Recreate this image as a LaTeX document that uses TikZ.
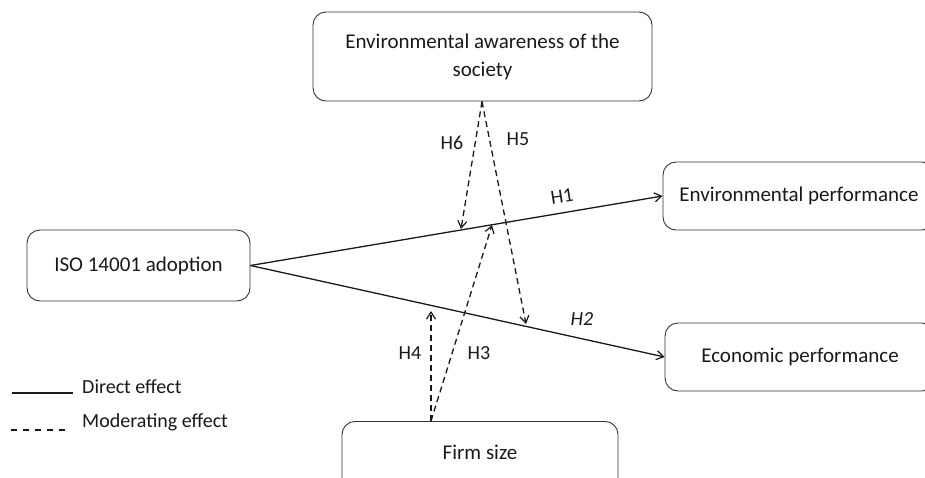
\documentclass[tikz,border=0pt]{standalone}
\usepackage{fontspec}
\setmainfont{Carlito}
\usetikzlibrary{arrows.meta}
\begin{document}
\begin{tikzpicture}[x=1pt,y=-1pt,
  box/.style={draw=black!80,line width=0.9pt,rounded corners=13pt,align=center,inner sep=0pt,font=\fontsize{21}{28}\selectfont,text=black!90},
  direct/.style={line width=1.3pt,draw=black!90,-{Straight Barb[length=7pt,width=9pt,line width=1.2pt]}},
  moder/.style={line width=1.3pt,draw=black!90,dash pattern=on 6pt off 4pt,-{Straight Barb[length=7pt,width=9pt,line width=1.2pt]}},
  lab/.style={font=\fontsize{20}{22}\selectfont,text=black!90,inner sep=0pt}]
\useasboundingbox (0,0) rectangle (925,477);
\clip (0,0) rectangle (925,477);
\node[box,minimum width=339pt,minimum height=89pt] (soc) at (482.5,56.5) {Environmental awareness of the\\society};
\node[box,minimum width=223pt,minimum height=71pt] (iso) at (138.5,265.5) {ISO 14001 adoption};
\node[box,minimum width=272pt,minimum height=68pt] (env) at (799,196) {Environmental performance};
\node[box,minimum width=270pt,minimum height=68pt] (eco) at (800,357) {Economic performance};
\node[box,minimum width=276pt,minimum height=100pt,anchor=north] (firm) at (480,421) {};
\node[box,draw=none] (firmtext) at (480,452) {Firm size};
\coordinate (top) at (482,101.5);
\coordinate (bot) at (431,421);
\coordinate (h6end) at (461,229);
\coordinate (h5end) at (526,324);
\coordinate (h3end) at (492,225);
\coordinate (h4end) at (431,311);
\draw[direct] (iso.east) -- (env.west);
\draw[direct] (iso.east) -- (eco.west);
\draw[moder] (top) -- (h6end);
\draw[moder] (top) -- (h5end);
\draw[moder] (bot) -- (h3end);
\draw[moder] (bot) -- (h4end);
\node[lab,rotate=9] (l1) at (562,196) {H1};
\node[lab] (l2) at (582,319) {\itshape H2};
\node[lab] (l3) at (479,353) {H3};
\node[lab] (l4) at (410,353) {H4};
\node[lab] (l5) at (518,139) {H5};
\node[lab] (l6) at (452,143) {H6};
\coordinate (d1) at (12,393);
\coordinate (d2) at (73,393);
\coordinate (m1) at (11,430);
\coordinate (m2) at (69,430);
\draw[line width=1.3pt,draw=black!90] (d1) -- (d2);
\draw[line width=1.3pt,draw=black!90,dash pattern=on 6pt off 6pt] (m1) -- (m2);
\node[lab,anchor=west] (t1) at (82,387) {Direct effect};
\node[lab,anchor=west] (t2) at (82,422) {Moderating effect};
\end{tikzpicture}
\end{document}
